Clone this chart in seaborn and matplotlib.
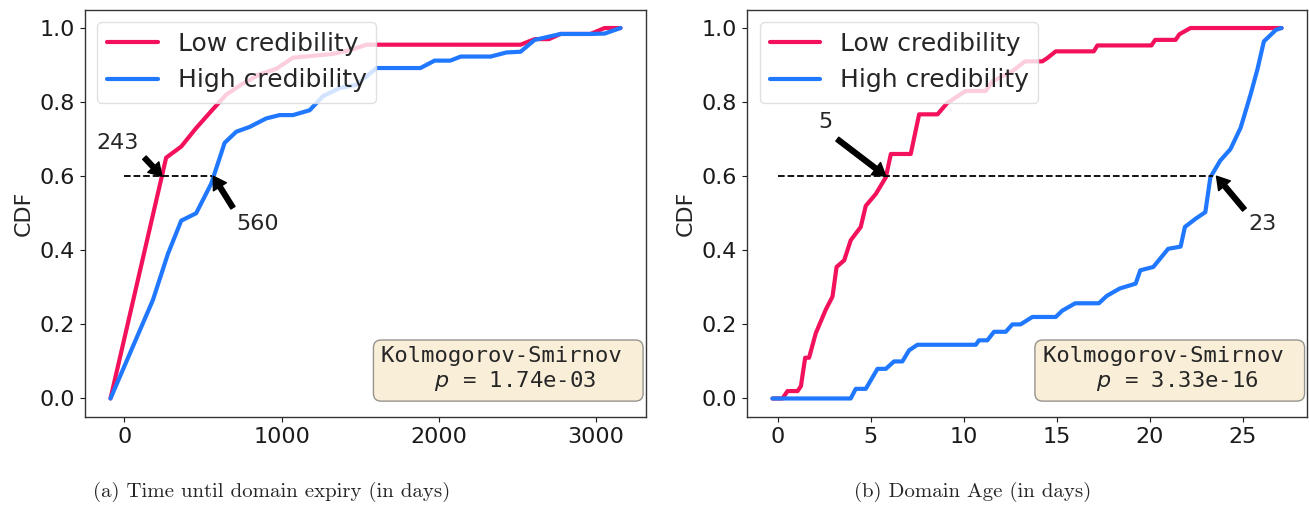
import numpy as np
import pandas as pd
import matplotlib
matplotlib.use("Agg")
import matplotlib.pyplot as plt
from matplotlib.ticker import MultipleLocator
import seaborn as sns

# ---------------- data ----------------
series_labels = ["Low credibility", "High credibility"]

expiry_low_x = [-89, 265, 361, 456, 561, 647, 753, 860, 966, 1072, 1326, 1433, 1540,
                2520, 2610, 2700, 2775, 2965, 3055, 3156]
expiry_low_y = [0, 0.65, 0.68, 0.73, 0.78, 0.82, 0.85, 0.875, 0.89, 0.92, 0.93, 0.94, 0.955,
                0.955, 0.97, 0.97, 0.984, 0.984, 1.0, 1.0]

expiry_high_x = [-89, 181, 276, 361, 456, 552, 637, 711, 796, 902, 987, 1072, 1178, 1263,
                 1369, 1476, 1604, 1883, 1973, 2073, 2140, 2330, 2430, 2520, 2610, 2776,
                 2966, 3055, 3156]
expiry_high_y = [0, 0.266, 0.39, 0.48, 0.50, 0.58, 0.69, 0.72, 0.733, 0.756, 0.765, 0.765,
                 0.778, 0.816, 0.838, 0.847, 0.892, 0.892, 0.912, 0.912, 0.923, 0.923,
                 0.934, 0.936, 0.968, 0.984, 0.984, 0.985, 1.0]

age_low_x = [-0.29, 0.25, 0.52, 1.06, 1.24, 1.47, 1.68, 2.04, 2.58, 2.94, 3.16, 3.57, 3.92,
             4.46, 4.73, 5.27, 5.81, 6.08, 7.15, 7.6, 8.59, 9.12, 10.1, 11.18, 11.54, 12.6,
             13.3, 14.23, 14.5, 14.95, 17.0, 17.19, 20.1, 20.3, 21.4, 21.6, 22.2, 27.1]
age_low_y = [0, 0, 0.02, 0.02, 0.033, 0.11, 0.11, 0.176, 0.24, 0.275, 0.355, 0.373, 0.427,
             0.463, 0.52, 0.552, 0.597, 0.66, 0.66, 0.767, 0.767, 0.798, 0.83, 0.83, 0.856,
             0.883, 0.91, 0.91, 0.919, 0.937, 0.937, 0.953, 0.953, 0.968, 0.968, 0.983,
             1.0, 1.0]

age_high_x = [-0.29, 3.92, 4.19, 4.73, 5.36, 5.81, 6.25, 6.7, 7.06, 7.51, 10.65, 10.82,
              11.27, 11.63, 12.26, 12.62, 13.06, 13.69, 14.95, 15.3, 16.0, 17.27, 17.7,
              18.4, 19.25, 19.5, 20.2, 21.0, 21.67, 21.9, 22.47, 23.0, 23.27, 23.8, 24.35,
              24.9, 25.43, 25.8, 26.15, 26.8, 27.1]
age_high_y = [0, 0, 0.026, 0.026, 0.08, 0.08, 0.1, 0.1, 0.13, 0.145, 0.145, 0.157, 0.157,
              0.18, 0.18, 0.2, 0.2, 0.22, 0.22, 0.237, 0.257, 0.257, 0.277, 0.297, 0.31,
              0.346, 0.355, 0.404, 0.41, 0.463, 0.485, 0.503, 0.597, 0.642, 0.673, 0.731,
              0.82, 0.888, 0.964, 0.995, 1.0]

threshold = 0.6
expiry_marks = [243, 560]
age_marks = [5, 23]
ks_p = ["1.74e-03", "3.33e-16"]
captions = ["(a) Time until domain expiry (in days)", "(b) Domain Age (in days)"]

colors = ["#f2115a", "#1f78ff"]

# ---------------- style ----------------
sns.set_style("ticks", {"axes.edgecolor": "0.15", "xtick.color": "0.15", "ytick.color": "0.15"})
plt.rcParams["font.family"] = ["DejaVu Sans"]
plt.rcParams["xtick.major.size"] = 3.5
plt.rcParams["ytick.major.size"] = 3.5

W, H = 1309, 507
fig = plt.figure(figsize=(W / 100, H / 100), dpi=100)
ax1 = fig.add_axes([85 / W, (H - 417) / H, (646 - 85) / W, (417 - 9.5) / H])
ax2 = fig.add_axes([747 / W, (H - 417) / H, (1307 - 747) / W, (417 - 9.5) / H])


def make_df(xl, yl, xh, yh):
    d1 = pd.DataFrame({"x": xl, "y": yl, "group": series_labels[0]})
    d2 = pd.DataFrame({"x": xh, "y": yh, "group": series_labels[1]})
    return pd.concat([d1, d2], ignore_index=True)


df1 = make_df(expiry_low_x, expiry_low_y, expiry_high_x, expiry_high_y)
df2 = make_df(age_low_x, age_low_y, age_high_x, age_high_y)

for ax, df, step in [(ax1, df1, 1000), (ax2, df2, 5)]:
    sns.lineplot(data=df, x="x", y="y", hue="group", palette=colors, estimator=None,
                 sort=False, linewidth=3, ax=ax)
    ax.set_xlabel("")
    ax.set_ylabel("CDF", fontsize=16)
    ax.set_yticks([0, 0.2, 0.4, 0.6, 0.8, 1.0])
    ax.xaxis.set_major_locator(MultipleLocator(step))
    ax.tick_params(labelsize=16, colors="0.1")
    for s in ax.spines.values():
        s.set_linewidth(1.0)
        s.set_color("0.2")
    leg = ax.legend(loc="upper left", fontsize=18, handlelength=2.0)
    leg.get_frame().set_edgecolor("0.85")
    for line in leg.get_lines():
        line.set_linewidth(3)

arrow_kw = dict(facecolor="black", edgecolor="black", width=3.5, headwidth=11,
                headlength=9, shrink=0.0)

# left annotations
ax1.hlines(threshold, 0, expiry_marks[1], colors="black", linestyles="--", linewidth=1.3)
ax1.annotate("", xy=(238, threshold), xytext=(127, 0.65), arrowprops=arrow_kw)
ax1.text(-44, 0.69, str(expiry_marks[0]), fontsize=16, ha="center", va="center")
ax1.annotate("", xy=(565, threshold), xytext=(690, 0.515), arrowprops=arrow_kw)
ax1.text(848, 0.47, str(expiry_marks[1]), fontsize=16, ha="center", va="center")

# right annotations
ax2.hlines(threshold, 0, 23.4, colors="black", linestyles="--", linewidth=1.3)
ax2.annotate("", xy=(5.81, threshold), xytext=(3.2, 0.70), arrowprops=arrow_kw)
ax2.text(2.55, 0.745, str(age_marks[0]), fontsize=16, ha="center", va="center")
ax2.annotate("", xy=(23.6, threshold), xytext=(25.1, 0.51), arrowprops=arrow_kw)
ax2.text(26.1, 0.47, str(age_marks[1]), fontsize=16, ha="center", va="center")

for ax, p in [(ax1, ks_p[0]), (ax2, ks_p[1])]:
    ax.text(0.528, 0.058, "Kolmogorov-Smirnov \n    $p$ = " + p, transform=ax.transAxes,
            ha="left", va="bottom", multialignment="left", fontsize=16,
            family="DejaVu Sans Mono",
            bbox=dict(boxstyle="round,pad=0.35", facecolor="wheat", alpha=0.5,
                      edgecolor="0.2"))

fig.text(272 / W, 1 - 492 / H, captions[0], fontsize=15, family="cmr10",
         ha="center", va="center")
fig.text(973 / W, 1 - 492 / H, captions[1], fontsize=15, family="cmr10",
         ha="center", va="center")

fig.savefig("out.png", dpi=100)
